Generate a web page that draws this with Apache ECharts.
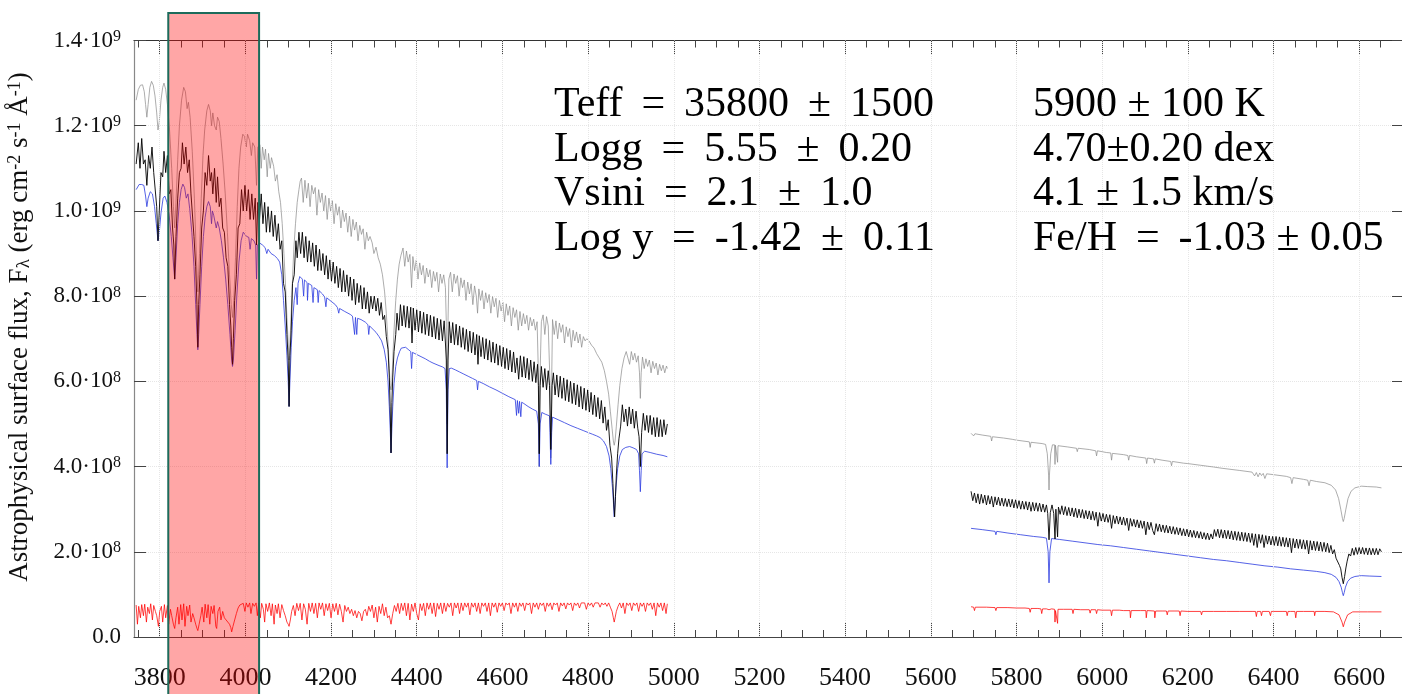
<!DOCTYPE html>
<html><head><meta charset="utf-8">
<script src="https://cdn.jsdelivr.net/npm/echarts@6/dist/echarts.min.js"></script>
<style>html,body{margin:0;padding:0;background:#fff}#c{width:1402px;height:694px}</style>
</head><body><div id="c"></div><script>
// ---- data (wavelength in Å, flux in units of 1e8 erg cm^-2 s^-1 Å^-1) ----
const FLUX_UNIT = 1e8;
const xMin = 3740, xMax = 6700;
const xMajorTicks = [3800,4000,4200,4400,4600,4800,5000,5200,5400,5600,5800,6000,6200,6400,6600];
const xMinorTicks = [3750,3800,3850,3900,3950,4000,4050,4100,4150,4200,4250,4300,4350,4400,4450,4500,4550,4600,4650,4700,4750,4800,4850,4900,4950,5000,5050,5100,5150,5200,5250,5300,5350,5400,5450,5500,5550,5600,5650,5700,5750,5800,5850,5900,5950,6000,6050,6100,6150,6200,6250,6300,6350,6400,6450,6500,6550,6600,6650];
const yTicks = [0,2e8,4e8,6e8,8e8,1e9,1.2e9,1.4e9];
const highlightBand = [3820, 4032];
const paramsHot = ['Teff \u2009= \u200935800 \u2009± \u20091500','Logg \u2009= \u20095.55 \u2009± \u20090.20','Vsini \u2009= \u20092.1 \u2009± \u20091.0','Log y \u2009= \u2009-1.42 \u2009± \u20090.11'];
const paramsCool = ['5900 ± 100 K','4.70±0.20 dex','4.1 ± 1.5 km/s','Fe/H \u2009= \u2009-1.03 ± 0.05'];

const grayLeft = [[3745,12.6],[3750,12.85],[3755,12.95],[3760,12.96],[3764,12.8],[3767,12.5],[3770,12.2],[3773,12.5],[3777,12.9],[3781,13.04],[3785,12.95],[3789,12.7],[3793,12.3],[3796,11.9],[3799,12.1],[3803,12.6],[3807,12.9],[3810,13.0],[3814,12.85],[3818,12.5],[3823,11.9],[3828,11.0],[3832,10.1],[3835,9.6],[3838,10.2],[3842,11.2],[3846,12.0],[3851,12.6],[3856,12.9],[3860,12.8],[3864,12.4],[3867,12.55],[3871,12.2],[3876,11.4],[3881,10.3],[3885,9.1],[3889,8.1],[3893,9.0],[3897,10.3],[3901,11.3],[3905,11.9],[3910,12.35],[3914,12.5],[3918,12.35],[3921,12.0],[3924,12.3],[3928,12.0],[3932,11.9],[3935,12.2],[3939,12.1],[3943,11.7],[3948,11.1],[3953,10.4],[3958,9.5],[3963,8.5],[3967,7.8],[3970,7.5],[3973,7.9],[3977,8.9],[3981,10.1],[3985,11.0],[3989,11.5],[3994,11.8],[3998,11.75],[4002,11.5],[4005,11.8],[4010,11.65],[4014,11.3],[4017,11.6],[4022,11.5],[4026,10.6],[4029,11.5],
[4034,11.55],[4037,11.0],[4040,11.5],[4044,11.2],[4047,11.45],[4051,10.8],[4054,11.35],[4058,11.0],[4061,11.25],
[4066,11.05],[4070,10.7],[4074,10.85],[4078,10.45],[4082,10.2],[4086,9.7],[4090,9.0],[4094,8.2],[4097,7.5],[4100,6.9],[4102,6.5],[4104,6.9],[4107,7.6],[4110,8.4],[4113,9.1],[4117,9.7],[4121,10.2],[4125,10.5],[4128,10.7],[4131,10.77],
[4135,10.2],[4139,10.72],[4143,10.3],[4147,10.65],[4151,10.1],[4155,10.6],[4159,10.4],[4163,10.55],[4167,9.9],[4171,10.5],[4175,10.2],[4179,10.42],[4183,10.0],[4187,10.36],[4191,9.8],[4195,10.3],[4199,10.0],[4203,10.24],[4207,9.7],[4211,10.17],[4215,9.9],[4219,10.1],[4223,9.6],[4227,10.02],[4231,9.75],[4235,9.95],[4239,9.5],[4243,9.88],[4247,9.4],[4251,9.8],[4255,9.55],[4259,9.74],[4263,9.3],[4267,9.66],[4271,9.45],[4275,9.58],[4279,9.1],[4283,9.5],[4287,9.3],[4291,9.4],
[4296,9.25],[4300,9.0],[4305,9.15],[4310,8.9],[4315,8.75],[4320,8.5],[4325,8.1],[4329,7.6],[4333,6.9],[4336,6.3],[4338,5.9],[4340,5.8],[4342,6.0],[4344,6.5],[4347,7.2],[4351,7.9],[4355,8.4],[4359,8.75],[4363,8.95],[4368,9.13],
[4372,8.7],[4376,9.06],[4380,8.8],[4384,8.98],[4388,8.2],[4391,8.93],[4395,8.6],[4399,8.85],[4403,8.4],[4407,8.78],[4411,8.5],[4415,8.72],[4419,8.3],[4423,8.66],[4427,8.45],[4431,8.62],[4435,8.2],[4439,8.58],[4443,8.35],[4447,8.56],[4451,8.1],[4455,8.52],[4459,8.3],[4463,8.5],[4467,8.2],[4469,7.4],[4471,5.0],[4473,7.4],[4475,8.4],[4479,8.56],
[4483,8.1],[4487,8.52],[4491,8.3],[4495,8.48],[4499,8.0],[4503,8.43],[4507,8.2],[4511,8.38],[4515,7.9],[4519,8.33],[4523,8.05],[4527,8.29],[4531,7.8],[4535,8.24],[4539,8.0],[4542,7.6],[4545,8.17],[4549,7.9],[4553,8.13],[4557,7.7],[4561,8.08],[4565,7.85],[4569,8.04],[4573,7.6],[4577,7.99],[4581,7.75],[4585,7.95],[4589,7.5],[4593,7.9],[4597,7.65],[4601,7.86],[4605,7.4],[4609,7.82],[4613,7.55],[4617,7.77],[4621,7.3],[4625,7.73],[4629,7.5],[4633,7.68],[4637,7.2],[4641,7.64],[4645,7.3],[4649,7.59],[4653,7.35],[4657,7.55],[4661,7.2],[4665,7.5],[4669,7.3],[4673,7.46],[4677,7.2],[4681,7.4],[4684,6.2],[4686,4.0],[4688,6.2],[4691,7.4],[4695,7.56],
[4699,7.1],[4703,7.52],[4707,7.3],[4710,7.3],[4711,6.0],[4713,4.2],[4715,6.0],[4717,7.45],[4721,7.1],[4725,7.42],[4729,7.0],[4733,7.37],[4737,7.15],[4741,7.33],[4745,6.9],[4749,7.28],[4753,7.05],[4757,7.24],[4761,6.8],[4765,7.2],[4769,6.95],[4773,7.16],[4777,6.9],[4781,7.11],[4785,6.8],[4789,7.05],[4793,6.95],[4797,7.0],
[4802,6.95],[4808,6.85],[4814,6.78],[4820,6.65],[4826,6.55],[4832,6.45],[4838,6.25],[4843,6.0],[4848,5.7],[4852,5.3],[4856,4.9],[4859,4.6],[4861,4.5],[4863,4.6],[4866,4.95],[4870,5.45],[4874,5.9],[4879,6.3],[4884,6.55],[4889,6.7],[4893,6.74],
[4897,6.4],[4901,6.7],[4905,6.5],[4909,6.66],[4913,6.45],[4917,6.6],[4920,6.2],[4922,5.6],[4924,6.2],[4927,6.57],[4931,6.3],[4935,6.53],[4939,6.35],[4943,6.5],[4947,6.2],[4951,6.47],[4955,6.3],[4959,6.43],[4963,6.15],[4967,6.4],[4971,6.25],[4975,6.38],[4979,6.2],[4983,6.36],[4985,6.3]];

const grayRight = [[5694,4.78],[5700,4.72],[5703,4.77],[5720,4.74],[5740,4.71],[5742,4.6],[5744,4.7],[5770,4.67],[5790,4.64],[5800,4.62],[5830,4.58],[5832,4.45],[5834,4.57],[5860,4.54],[5868,4.52],[5872,4.3],[5875,3.8],[5876,3.45],[5877,3.8],[5880,4.3],[5884,4.51],[5889,4.51],[5890,4.05],[5891,4.5],[5895,4.5],[5896,4.1],[5897,4.49],[5920,4.46],[5940,4.43],[5942,4.35],[5944,4.43],[5970,4.4],[5985,4.37],[5987,4.25],[5989,4.37],[6010,4.33],[6020,4.32],[6022,4.15],[6024,4.31],[6050,4.28],[6060,4.26],[6062,4.15],[6064,4.26],[6080,4.23],[6102,4.2],[6104,4.07],[6106,4.2],[6120,4.18],[6122,4.08],[6124,4.18],[6140,4.15],[6160,4.12],[6162,4.02],[6164,4.12],[6190,4.08],[6200,4.07],[6230,4.03],[6260,3.99],[6280,3.96],[6320,3.91],[6350,3.87],[6356,3.78],[6360,3.86],[6364,3.76],[6368,3.85],[6372,3.79],[6376,3.84],[6380,3.72],[6384,3.83],[6400,3.81],[6430,3.77],[6440,3.74],[6443,3.6],[6446,3.74],[6470,3.7],[6480,3.68],[6483,3.55],[6486,3.68],[6500,3.65],[6520,3.62],[6535,3.56],[6545,3.45],[6552,3.25],[6557,3.0],[6561,2.78],[6563,2.71],[6565,2.78],[6569,3.0],[6574,3.25],[6581,3.42],[6590,3.5],[6605,3.54],[6620,3.53],[6640,3.52],[6652,3.5]];

const blueLeft = [[3745,10.5],[3752,10.62],[3758,10.62],[3763,10.6],[3767,10.35],[3770,10.1],[3773,10.3],[3778,10.45],[3783,10.4],[3788,10.1],[3792,9.7],[3796,9.3],[3799,9.5],[3803,9.95],[3808,10.3],[3812,10.35],[3817,10.2],[3822,9.9],[3827,9.4],[3831,8.9],[3835,8.4],[3838,8.9],[3842,9.7],[3846,10.2],[3850,10.5],[3854,10.63],[3858,10.55],[3862,10.3],[3866,10.4],[3870,10.05],[3875,9.5],[3880,8.7],[3884,7.8],[3887,7.1],[3889,6.74],[3891,7.1],[3894,7.8],[3898,8.7],[3902,9.4],[3906,9.85],[3910,10.1],[3914,10.22],[3918,10.1],[3921,9.7],[3923,10.0],[3926,9.9],[3929,9.9],[3932,9.6],[3935,9.75],[3939,9.6],[3944,9.3],[3949,8.9],[3954,8.4],[3959,7.8],[3964,7.1],[3968,6.5],[3970,6.35],[3972,6.5],[3976,7.2],[3980,8.0],[3985,8.8],[3990,9.3],[3995,9.5],[3998,9.51],[4003,9.4],[4008,9.38],[4011,9.1],[4014,9.35],[4020,9.3],[4024,9.2],[4026,8.4],[4028,9.2],[4033,9.25],[4040,9.2],[4046,9.14],[4050,9.0],[4053,9.1],[4060,9.0],[4068,8.95],[4075,8.88],[4080,8.8],[4085,8.5],[4089,7.9],[4093,7.3],[4097,6.6],[4100,6.0],[4102,5.41],[4104,6.0],[4107,6.8],[4110,7.4],[4114,7.9],[4118,8.2],[4121,7.8],[4123,8.3],[4127,8.46],[4133,8.4],[4136,8.0],[4138,8.38],[4144,8.32],[4145,7.9],[4147,8.3],[4155,8.25],[4158,7.85],[4160,8.2],[4168,8.15],[4170,7.85],[4172,8.13],[4180,8.05],[4185,7.98],[4188,7.75],[4190,7.96],[4200,7.88],[4210,7.8],[4215,7.73],[4218,7.6],[4220,7.71],[4232,7.64],[4245,7.57],[4250,7.53],[4255,7.1],[4257,7.5],[4260,7.1],[4262,7.48],[4270,7.45],[4280,7.39],[4286,7.33],[4288,7.1],[4290,7.3],[4298,7.22],[4305,7.15],[4312,7.05],[4318,6.95],[4324,6.75],[4329,6.45],[4333,6.0],[4336,5.4],[4338,4.9],[4340,4.32],[4342,4.9],[4344,5.4],[4347,5.95],[4351,6.35],[4355,6.55],[4360,6.7],[4364,6.78],[4368,6.81],[4374,6.8],[4380,6.75],[4386,6.7],[4388,6.3],[4390,6.68],[4400,6.63],[4410,6.58],[4420,6.53],[4430,6.47],[4438,6.43],[4445,6.4],[4452,6.37],[4460,6.34],[4466,6.3],[4469,5.8],[4471,3.97],[4473,5.8],[4476,6.3],[4481,6.31],[4490,6.27],[4500,6.22],[4510,6.17],[4520,6.12],[4530,6.07],[4540,6.02],[4542,5.8],[4544,6.0],[4555,5.95],[4570,5.87],[4585,5.8],[4600,5.72],[4615,5.64],[4630,5.57],[4633,5.2],[4635,5.55],[4638,5.25],[4640,5.53],[4643,5.17],[4645,5.51],[4650,5.48],[4660,5.41],[4670,5.35],[4680,5.3],[4684,5.0],[4686,4.0],[4688,5.0],[4692,5.27],[4700,5.23],[4710,5.19],[4711,4.8],[4713,4.05],[4715,4.8],[4717,5.16],[4730,5.1],[4745,5.03],[4760,4.96],[4775,4.9],[4790,4.84],[4800,4.8],[4810,4.76],[4820,4.72],[4828,4.68],[4836,4.6],[4843,4.47],[4849,4.25],[4853,3.95],[4857,3.5],[4859,3.2],[4861,2.82],[4863,3.2],[4865,3.5],[4869,3.95],[4874,4.25],[4880,4.4],[4888,4.45],[4897,4.47],[4905,4.44],[4913,4.4],[4918,4.3],[4920,3.9],[4922,3.41],[4924,3.9],[4926,4.3],[4932,4.36],[4945,4.33],[4960,4.29],[4975,4.26],[4985,4.23]];

const blueRight = [[5694,2.55],[5720,2.52],[5750,2.48],[5752,2.4],[5754,2.48],[5780,2.44],[5810,2.4],[5840,2.36],[5860,2.34],[5870,2.32],[5874,2.0],[5876,1.27],[5878,2.0],[5882,2.31],[5900,2.29],[5930,2.25],[5960,2.21],[5990,2.17],[6000,2.16],[6020,2.14],[6050,2.1],[6080,2.06],[6110,2.02],[6140,1.98],[6170,1.94],[6200,1.9],[6230,1.86],[6260,1.82],[6290,1.79],[6320,1.75],[6350,1.71],[6380,1.67],[6410,1.64],[6440,1.6],[6470,1.57],[6500,1.54],[6520,1.51],[6535,1.47],[6546,1.4],[6553,1.3],[6558,1.17],[6561,1.04],[6563,0.97],[6565,1.04],[6568,1.17],[6573,1.3],[6580,1.38],[6590,1.42],[6605,1.44],[6625,1.43],[6652,1.42]];

const blackLeft = [[3745,11.1],[3750,11.6],[3754,11.0],[3758,11.7],[3762,11.1],[3766,11.2],[3770,10.6],[3774,11.3],[3778,11.0],[3782,11.5],[3786,10.9],[3790,10.9],[3793,10.1],[3796,9.3],[3799,10.0],[3803,10.9],[3807,10.8],[3810,11.4],[3814,10.9],[3818,11.3],[3822,10.4],[3826,10.5],[3830,9.6],[3833,9.2],[3835,8.4],[3838,9.4],[3842,10.3],[3846,10.9],[3850,11.0],[3853,11.6],[3857,11.1],[3861,11.5],[3865,10.9],[3869,11.2],[3873,10.4],[3877,10.4],[3880,9.4],[3884,8.7],[3887,7.8],[3889,6.8],[3891,7.8],[3894,8.5],[3898,9.6],[3902,10.0],[3906,10.9],[3910,10.6],[3914,11.3],[3918,10.7],[3921,10.9],[3924,10.4],[3928,11.0],[3932,10.2],[3935,10.8],[3939,10.1],[3943,10.3],[3947,9.6],[3951,9.5],[3955,8.9],[3959,8.7],[3963,7.8],[3966,7.3],[3968,6.8],[3970,6.4],[3972,7.0],[3975,7.9],[3979,8.5],[3983,9.6],[3987,9.7],[3991,10.5],[3995,10.0],[3999,10.6],[4003,10.0],[4007,10.5],[4011,9.8],[4015,10.4],[4019,9.8],[4023,10.3],[4026,9.2],[4029,10.2],[4033,9.8],[4037,10.4],[4041,9.7],[4045,10.2],[4049,9.5],[4053,10.1],[4057,9.5],[4061,10.0],[4065,9.4],[4069,9.9],[4073,9.3],[4077,9.7],[4081,9.1],[4085,9.3],[4089,8.3],[4093,8.1],[4097,7.1],[4100,6.5],[4102,5.41],[4104,6.6],[4107,7.2],[4110,8.3],[4114,8.5],[4118,9.3],[4121,8.9],[4125,9.5],[4129,9.0],[4133,9.5],[4137,8.9],[4141,9.4],[4145,8.8],[4149,9.3],[4153,8.8],[4157,9.25],[4161,8.7],[4165,9.2],[4169,8.6],[4173,9.1],[4177,8.6],[4181,9.0],[4185,8.5],[4189,8.95],[4193,8.4],[4197,8.85],[4201,8.35],[4205,8.8],[4209,8.3],[4213,8.7],[4217,8.2],[4221,8.65],[4225,8.1],[4229,8.6],[4233,8.1],[4237,8.5],[4241,8.0],[4245,8.45],[4249,7.9],[4253,8.4],[4257,7.8],[4261,8.3],[4265,7.85],[4269,8.25],[4273,7.7],[4277,8.2],[4281,7.7],[4285,8.1],[4289,7.6],[4293,8.0],[4297,7.7],
[4301,8.0],[4305,7.65],[4309,7.95],[4313,7.55],[4317,7.85],[4321,7.45],[4325,7.55],[4329,7.05],[4333,6.75],[4336,6.1],[4338,5.4],[4340,4.32],[4342,5.5],[4344,6.1],[4347,6.7],[4351,7.1],
[4354,7.6],[4358,7.2],[4362,7.8],[4366,7.3],[4370,7.78],[4374,7.27],[4378,7.76],[4382,7.25],[4386,7.74],[4389,6.9],[4392,7.72],[4396,7.2],[4400,7.68],[4404,7.16],[4408,7.65],[4412,7.13],[4416,7.62],[4420,7.1],[4424,7.58],[4428,7.07],[4432,7.55],[4436,7.04],[4440,7.52],[4444,7.0],[4448,7.48],[4452,6.97],[4456,7.45],[4460,6.95],[4464,7.42],[4467,6.9],[4469,6.5],[4471,4.3],[4473,6.5],[4476,7.4],
[4480,6.9],[4484,7.38],[4488,6.86],[4492,7.34],[4496,6.85],[4500,7.3],[4504,6.8],[4508,7.26],[4512,6.75],[4516,7.22],[4520,6.7],[4524,7.18],[4528,6.67],[4532,7.15],[4536,6.62],[4540,7.1],[4543,6.4],[4546,7.07],[4550,6.58],[4554,7.03],[4558,6.53],[4562,7.0],[4566,6.5],[4570,6.96],[4574,6.45],[4578,6.92],[4582,6.43],[4586,6.88],[4590,6.38],[4594,6.84],[4598,6.35],[4602,6.8],[4606,6.3],[4610,6.77],[4614,6.27],[4618,6.73],[4622,6.22],[4626,6.69],[4630,6.2],[4634,6.55],[4638,6.05],[4642,6.6],[4646,6.1],[4650,6.58],[4654,6.08],[4658,6.54],[4662,6.04],[4666,6.5],[4670,6.0],[4674,6.46],[4678,5.97],[4682,6.4],[4684,5.9],[4686,4.3],[4688,5.9],[4691,6.35],[4695,5.86],[4699,6.3],[4703,5.8],[4707,6.25],[4710,5.9],[4713,4.4],[4716,5.9],[4719,6.2],[4723,5.68],[4727,6.15],[4731,5.63],[4735,6.12],[4739,5.6],[4743,6.08],[4747,5.55],[4751,6.04],[4755,5.52],[4759,6.0],[4763,5.48],[4767,5.96],[4771,5.45],[4775,5.92],[4779,5.4],[4783,5.88],[4787,5.35],[4791,5.84],[4795,5.32],[4799,5.8],[4803,5.28],[4807,5.74],[4811,5.22],[4815,5.68],[4819,5.17],[4823,5.62],[4827,5.12],[4831,5.55],[4835,5.02],[4839,5.4],[4843,4.85],[4847,5.1],[4851,4.5],[4855,4.2],[4858,3.6],[4860,3.1],[4862,2.82],[4864,3.3],[4866,3.8],[4869,4.3],[4872,4.65],[4876,4.95],[4880,5.45],
[4884,5.05],[4888,5.35],[4892,4.95],[4896,5.4],[4900,5.0],[4904,5.35],[4908,4.9],[4912,5.3],[4916,4.9],[4919,4.7],[4922,4.0],[4925,4.8],[4929,5.25],[4933,4.85],[4937,5.2],[4941,4.8],[4945,5.2],[4949,4.75],[4953,5.15],[4957,4.7],[4961,5.15],[4965,4.7],[4969,5.1],[4973,4.7],[4977,5.1],[4981,4.75],[4985,5.0]];

const blackRight = [[5694,3.42],[5698,3.2],[5702,3.38],[5706,3.15],[5710,3.36],[5714,3.12],[5718,3.35],[5722,3.14],[5726,3.33],[5730,3.1],[5734,3.32],[5738,3.12],[5742,3.3],[5746,3.05],[5750,3.29],[5754,3.1],[5758,3.28],[5762,3.08],[5766,3.26],[5770,3.07],[5774,3.25],[5778,3.06],[5782,3.24],[5786,3.05],[5790,3.23],[5794,3.03],[5798,3.22],[5802,3.02],[5806,3.2],[5810,3.0],[5814,3.19],[5818,3.0],[5822,3.18],[5826,2.98],[5830,3.17],[5834,2.95],[5838,3.16],[5842,2.96],[5846,3.15],[5850,2.95],[5854,3.14],[5858,2.94],[5862,3.12],[5866,2.93],[5870,3.1],[5873,2.9],[5876,2.28],[5879,2.92],[5883,3.1],[5887,2.9],[5890,2.3],[5892,3.0],[5896,2.35],[5898,3.05],[5902,2.88],[5906,3.08],[5910,2.87],[5914,3.06],[5918,2.85],[5922,3.04],[5926,2.84],[5930,3.03],[5934,2.82],[5938,3.02],[5942,2.8],[5946,3.0],[5950,2.8],[5954,2.99],[5958,2.78],[5962,2.97],[5966,2.77],[5970,2.96],[5974,2.75],[5978,2.95],[5982,2.74],[5986,2.93],[5990,2.6],[5994,2.92],[5998,2.72],[6002,2.9],[6006,2.7],[6010,2.88],[6014,2.69],[6018,2.87],[6022,2.55],[6026,2.85],[6030,2.66],[6034,2.84],[6038,2.65],[6042,2.82],[6046,2.63],[6050,2.81],[6054,2.62],[6058,2.79],[6062,2.5],[6066,2.78],[6070,2.6],[6074,2.76],[6078,2.58],[6082,2.75],[6086,2.56],[6090,2.73],[6094,2.55],[6098,2.72],[6102,2.4],[6106,2.7],[6110,2.52],[6114,2.69],[6118,2.5],[6122,2.4],[6126,2.66],[6130,2.48],[6134,2.65],[6138,2.47],[6142,2.63],[6146,2.45],[6150,2.62],[6154,2.44],[6158,2.6],[6162,2.42],[6166,2.59],[6170,2.41],[6174,2.57],[6178,2.4],[6182,2.56],[6186,2.38],[6190,2.54],[6194,2.37],[6198,2.53],[6202,2.35],[6206,2.51],[6210,2.34],[6214,2.5],[6218,2.33],[6222,2.48],[6226,2.32],[6230,2.47],[6234,2.3],[6238,2.45],[6242,2.29],[6246,2.44],[6250,2.28],[6254,2.42],[6258,2.3],
[6262,2.52],[6266,2.36],[6270,2.53],[6274,2.33],[6278,2.52],[6282,2.32],[6286,2.51],[6290,2.31],[6294,2.5],[6298,2.3],[6302,2.49],[6306,2.28],[6310,2.48],[6314,2.27],[6318,2.47],[6322,2.26],[6326,2.46],[6330,2.25],[6334,2.45],[6338,2.24],[6342,2.44],[6346,2.22],[6350,2.43],[6354,2.15],[6358,2.42],[6362,2.1],[6366,2.41],[6370,2.2],[6374,2.4],[6378,2.1],[6382,2.38],[6386,2.18],[6390,2.37],[6394,2.16],[6398,2.36],[6402,2.15],[6406,2.36],[6410,2.14],[6414,2.35],[6418,2.13],[6422,2.34],[6426,2.12],[6430,2.33],[6434,2.11],[6438,2.32],[6442,1.98],[6446,2.31],[6450,2.09],[6454,2.3],[6458,2.08],[6462,2.29],[6466,2.07],[6470,2.28],[6474,2.06],[6478,2.27],[6482,1.95],[6486,2.26],[6490,2.04],[6494,2.25],[6498,2.03],[6502,2.24],[6506,2.02],[6510,2.23],[6514,2.01],[6518,2.22],[6522,2.0],[6526,2.2],[6530,1.98],[6534,2.15],[6538,1.95],[6542,2.05],[6546,1.85],[6550,1.85],[6554,1.68],[6557,1.6],[6560,1.4],[6563,1.25],[6566,1.42],[6569,1.62],[6572,1.78],[6576,1.95],[6580,1.9],[6584,2.08],[6588,1.92],[6592,2.1],[6596,1.94],[6600,2.1],[6604,1.95],[6608,2.1],[6612,1.94],[6616,2.09],[6620,1.93],[6624,2.09],[6628,1.93],[6632,2.08],[6636,1.93],[6640,2.08],[6644,1.93],[6648,2.07],[6652,2.0]];

const redLeft = [[3745,0.75],[3748,0.3],[3751,0.72],[3755,0.45],[3758,0.76],[3762,0.5],[3765,0.77],[3769,0.35],[3772,0.7],[3776,0.55],[3779,0.78],[3783,0.4],[3786,0.74],[3790,0.6],[3793,0.5],[3797,0.25],[3800,0.6],[3804,0.72],[3807,0.35],[3811,0.76],[3814,0.45],[3818,0.74],[3821,0.3],[3825,0.65],[3828,0.5],[3832,0.3],[3835,0.2],[3838,0.45],[3842,0.7],[3845,0.3],[3849,0.76],[3852,0.4],[3856,0.78],[3859,0.25],[3863,0.72],[3866,0.5],[3870,0.75],[3873,0.35],[3877,0.55],[3880,0.45],[3884,0.3],[3887,0.2],[3889,0.15],[3892,0.3],[3896,0.5],[3899,0.7],[3903,0.35],[3906,0.77],[3910,0.45],[3913,0.76],[3917,0.3],[3920,0.72],[3924,0.55],[3927,0.74],[3931,0.25],[3933,0.2],[3936,0.6],[3940,0.7],[3943,0.4],[3947,0.6],[3951,0.45],[3955,0.4],[3959,0.35],[3963,0.3],[3966,0.22],[3968,0.12],[3971,0.25],[3975,0.4],[3979,0.55],[3983,0.68],[3987,0.75],[3991,0.77],[3995,0.79],[3999,0.6],[4002,0.8],[4006,0.7],[4010,0.8],[4013,0.55],[4017,0.79],[4021,0.72],[4025,0.8],[4028,0.5],[4031,0.8],[4035,0.45],[4038,0.79],[4042,0.65],[4045,0.35],[4048,0.78],[4052,0.6],[4056,0.8],[4060,0.5],[4063,0.78],[4067,0.3],[4070,0.75],[4074,0.55],[4077,0.78],[4081,0.45],[4085,0.76],[4089,0.62],[4093,0.5],[4097,0.35],[4100,0.3],[4102,0.25],[4105,0.4],[4108,0.6],[4112,0.74],[4116,0.5],[4120,0.79],[4124,0.62],[4128,0.79],[4132,0.4],[4136,0.78],[4140,0.65],[4144,0.3],[4148,0.79],[4152,0.6],[4156,0.8],[4160,0.55],[4164,0.79],[4168,0.45],[4172,0.8],[4176,0.65],[4180,0.8],[4184,0.5],[4188,0.78],[4192,0.62],[4196,0.79],[4200,0.45],[4204,0.78],[4208,0.6],[4212,0.79],[4216,0.52],[4220,0.77],[4224,0.6],[4228,0.35],[4232,0.74],[4236,0.6],[4240,0.7],[4244,0.55],[4248,0.65],[4252,0.5],[4256,0.62],[4260,0.45],[4264,0.6],[4268,0.55],[4272,0.38],[4276,0.6],[4280,0.65],[4284,0.5],[4288,0.72],[4292,0.6],[4296,0.75],[4300,0.45],[4304,0.7],[4308,0.35],[4312,0.72],[4316,0.55],[4320,0.78],[4324,0.5],[4328,0.7],[4332,0.45],[4336,0.5],[4340,0.3],[4344,0.55],[4348,0.74],[4352,0.6],[4356,0.79],[4360,0.55],[4364,0.79],[4368,0.62],[4372,0.8],[4376,0.5],[4380,0.79],[4384,0.4],[4388,0.77],[4392,0.6],[4396,0.8],[4400,0.55],[4404,0.4],[4408,0.78],[4412,0.62],[4416,0.79],[4420,0.5],[4424,0.8],[4428,0.65],[4432,0.8],[4436,0.55],[4440,0.8],[4444,0.48],[4448,0.79],[4452,0.65],[4456,0.8],[4460,0.55],[4464,0.8],[4468,0.6],[4472,0.79],[4476,0.7],[4480,0.8],[4484,0.5],[4488,0.8],[4492,0.68],[4496,0.8],[4500,0.55],[4504,0.8],[4508,0.62],[4512,0.8],[4516,0.7],[4520,0.8],[4524,0.52],[4528,0.8],[4532,0.7],[4536,0.8],[4540,0.6],[4544,0.8],[4548,0.55],[4552,0.8],[4556,0.72],[4560,0.8],[4564,0.6],[4568,0.8],[4572,0.5],[4576,0.8],[4580,0.7],[4584,0.8],[4588,0.58],[4592,0.8],[4596,0.72],[4600,0.8],[4604,0.62],[4608,0.8],[4612,0.75],[4616,0.8],[4620,0.55],[4624,0.8],[4628,0.7],[4632,0.8],[4636,0.6],[4640,0.8],[4644,0.72],[4648,0.8],[4652,0.62],[4656,0.8],[4660,0.75],[4664,0.8],[4668,0.55],[4672,0.8],[4676,0.7],[4680,0.8],[4684,0.65],[4688,0.8],[4692,0.74],[4696,0.8],[4700,0.6],[4704,0.8],[4708,0.72],[4712,0.8],[4716,0.64],[4720,0.8],[4724,0.75],[4728,0.8],[4732,0.6],[4736,0.8],[4740,0.73],[4744,0.8],[4748,0.66],[4752,0.8],[4756,0.75],[4760,0.8],[4764,0.62],[4768,0.8],[4772,0.74],[4776,0.8],[4780,0.68],[4784,0.8],[4788,0.76],[4792,0.8],[4796,0.65],[4800,0.8],[4804,0.74],[4808,0.8],[4812,0.7],[4816,0.8],[4820,0.76],[4824,0.8],[4828,0.7],[4832,0.8],[4836,0.75],[4840,0.8],[4844,0.72],[4848,0.8],[4852,0.7],[4856,0.6],[4859,0.45],[4861,0.35],[4863,0.45],[4866,0.6],[4870,0.72],[4874,0.8],[4878,0.68],[4882,0.8],[4886,0.55],[4890,0.8],[4894,0.74],[4898,0.8],[4902,0.62],[4906,0.8],[4910,0.74],[4914,0.8],[4918,0.6],[4922,0.8],[4926,0.72],[4930,0.8],[4934,0.6],[4938,0.8],[4942,0.74],[4946,0.8],[4950,0.65],[4954,0.8],[4958,0.5],[4962,0.8],[4966,0.7],[4970,0.8],[4974,0.62],[4978,0.8],[4982,0.55],[4985,0.78]];

const redRight = [[5694,0.71],[5700,0.7],[5702,0.62],[5704,0.7],[5730,0.7],[5750,0.69],[5752,0.62],[5754,0.69],[5780,0.69],[5800,0.68],[5820,0.68],[5830,0.67],[5832,0.58],[5834,0.67],[5850,0.67],[5857,0.66],[5859,0.55],[5861,0.66],[5870,0.66],[5876,0.64],[5882,0.66],[5889,0.65],[5890,0.35],[5891,0.62],[5895,0.62],[5896,0.32],[5897,0.65],[5910,0.65],[5930,0.65],[5932,0.55],[5934,0.65],[5950,0.64],[5970,0.64],[5972,0.56],[5974,0.64],[5985,0.64],[5987,0.55],[5989,0.64],[6000,0.63],[6020,0.63],[6022,0.5],[6024,0.63],[6040,0.63],[6050,0.62],[6065,0.62],[6066,0.45],[6068,0.62],[6090,0.62],[6102,0.62],[6103,0.45],[6105,0.62],[6122,0.61],[6123,0.45],[6125,0.61],[6140,0.61],[6150,0.61],[6152,0.52],[6154,0.61],[6170,0.61],[6180,0.61],[6182,0.5],[6184,0.61],[6200,0.6],[6230,0.6],[6232,0.52],[6234,0.6],[6260,0.6],[6290,0.6],[6320,0.6],[6350,0.6],[6358,0.6],[6360,0.48],[6362,0.6],[6370,0.6],[6372,0.5],[6374,0.6],[6390,0.6],[6393,0.5],[6395,0.6],[6400,0.6],[6420,0.6],[6430,0.6],[6432,0.5],[6434,0.6],[6440,0.6],[6450,0.6],[6452,0.45],[6454,0.6],[6470,0.6],[6490,0.6],[6495,0.6],[6496,0.5],[6498,0.6],[6520,0.6],[6540,0.59],[6553,0.52],[6560,0.35],[6563,0.24],[6566,0.35],[6573,0.52],[6585,0.59],[6600,0.59],[6620,0.59],[6652,0.59]];

// ---- chart ----
const SERIF = 'Liberation Serif';
const toFlux = arr => arr.map(p => [p[0], p[1] * FLUX_UNIT]);
function spec(name, arr, color, width, z) {
  return {name, type:'line', data: toFlux(arr), showSymbol:false, symbol:'none', silent:true,
    lineStyle:{color, width}, z, animation:false};
}
function fmtY(v) {
  if (v === 0) return '{m|0.0}';
  const e = Math.floor(Math.log10(v) + 1e-9);
  const m = (v / Math.pow(10, e)).toFixed(1);
  return '{m|' + m + '·10}{e|' + e + '}';
}
const chart = echarts.init(document.getElementById('c'), null, {renderer:'canvas'});
const tickColor = '#444';
const option = {
  animation:false,
  backgroundColor:'#fff',
  grid:{left:134, right:0, top:40.5, bottom:57, containLabel:false},
  xAxis:[
    {type:'value', min:xMin, max:xMax, position:'bottom',
     axisLine:{lineStyle:{color:'#444', width:1.2}},
     axisTick:{inside:true, length:14, customValues:xMajorTicks, lineStyle:{color:tickColor}},
     axisLabel:{customValues:xMajorTicks, margin:28, fontFamily:SERIF, fontSize:26, color:'#111', formatter: v => String(v)},
     splitLine:{show:false}},
    {type:'value', min:xMin, max:xMax, position:'bottom',
     axisLine:{show:false}, axisTick:{inside:true, length:7, customValues:xMinorTicks, lineStyle:{color:tickColor}},
     axisLabel:{show:false}, splitLine:{show:false}},
    {type:'value', min:xMin, max:xMax, position:'top',
     axisLine:{lineStyle:{color:'#333', width:1.2}},
     axisTick:{inside:true, length:14, customValues:xMajorTicks, lineStyle:{color:tickColor}},
     axisLabel:{show:false}, splitLine:{show:false}},
    {type:'value', min:xMin, max:xMax, position:'top',
     axisLine:{show:false}, axisTick:{inside:true, length:7, customValues:xMinorTicks, lineStyle:{color:tickColor}},
     axisLabel:{show:false}, splitLine:{show:false}}
  ],
  yAxis:[
    {type:'value', min:0, max:1.4e9, interval:2e8, position:'left',
     axisLine:{show:true, lineStyle:{color:'#888', width:1.2}},
     axisTick:{show:true, inside:true, length:12, lineStyle:{color:tickColor}},
     axisLabel:{margin:13, formatter:fmtY, color:'#111',
       rich:{m:{fontFamily:SERIF, fontSize:23, lineHeight:23, color:'#111'},
             e:{fontFamily:SERIF, fontSize:16, lineHeight:16, verticalAlign:'top', color:'#111'}}},
     splitLine:{show:true, lineStyle:{type:'dotted', color:'#e6e6e6', width:1}}},
    {type:'value', min:0, max:1.4e9, interval:2e8, position:'right',
     axisLine:{show:true, lineStyle:{color:'#888'}},
     axisTick:{show:true, inside:true, length:10, lineStyle:{color:tickColor}},
     axisLabel:{show:false}, splitLine:{show:false}}
  ],
  series:[
    Object.assign(spec('gridx', [], '#000', 0, 1), {
      markLine:{silent:true, symbol:'none', label:{show:false},
        lineStyle:{type:'dotted', color:'#e6e6e6', width:1},
        data: xMajorTicks.map(v => ({xAxis:v}))}}),
    spec('model sum L', grayLeft, '#8a8a8a', 0.7, 3),
    spec('model sum R', grayRight, '#8a8a8a', 0.7, 3),
    spec('hot L', blueLeft, '#2a3ae0', 0.8, 4),
    spec('hot R', blueRight, '#2a3ae0', 0.8, 4),
    spec('obs L', blackLeft, '#000000', 0.9, 5),
    spec('obs R', blackRight, '#000000', 0.9, 5),
    spec('cool L', redLeft, '#ff0000', 0.75, 6),
    spec('cool R', redRight, '#ff0000', 0.75, 6)
  ]
};
chart.setOption(option);

const bx0 = chart.convertToPixel({xAxisIndex:0}, highlightBand[0]);
const bx1 = chart.convertToPixel({xAxisIndex:0}, highlightBand[1]);
const graphics = [
  {type:'rect', z:100, silent:true, shape:{x:bx0, y:13, width:bx1-bx0, height:700},
   style:{fill:'rgba(255,0,0,0.35)', stroke:'#1c6b5b', lineWidth:2}},
  {type:'text', z:101, x:20, y:327, rotation:Math.PI/2, silent:true,
   style:{text:'{n|Astrophysical surface flux, F}{sub|λ}{n| (erg cm}{sup|-2}{n| s}{sup|-1}{n| Å}{sup|-1}{n|)}',
     align:'center', verticalAlign:'middle', textAlign:'center', textVerticalAlign:'middle',
     fill:'#111', fontFamily:SERIF, fontSize:27,
     rich:{n:{fontFamily:SERIF, fontSize:27, lineHeight:27, fill:'#111'},
           sub:{fontFamily:SERIF, fontSize:19, lineHeight:14, verticalAlign:'bottom', fill:'#111'},
           sup:{fontFamily:SERIF, fontSize:18, lineHeight:18, verticalAlign:'top', fill:'#111'}}}}
];
const lineYs = [105, 150, 194, 239];
function paramText(t, x, y) {
  return {type:'text', z:102, x, y, silent:true,
    style:{text:t, fontFamily:SERIF, fontSize:42, fontWeight:'normal', fill:'#000',
      verticalAlign:'middle', textVerticalAlign:'middle'}};
}
paramsHot.forEach((t, i) => graphics.push(paramText(t, 554, lineYs[i])));
paramsCool.forEach((t, i) => graphics.push(paramText(t, 1033, lineYs[i])));
chart.setOption({graphic:graphics});
</script></body></html>
